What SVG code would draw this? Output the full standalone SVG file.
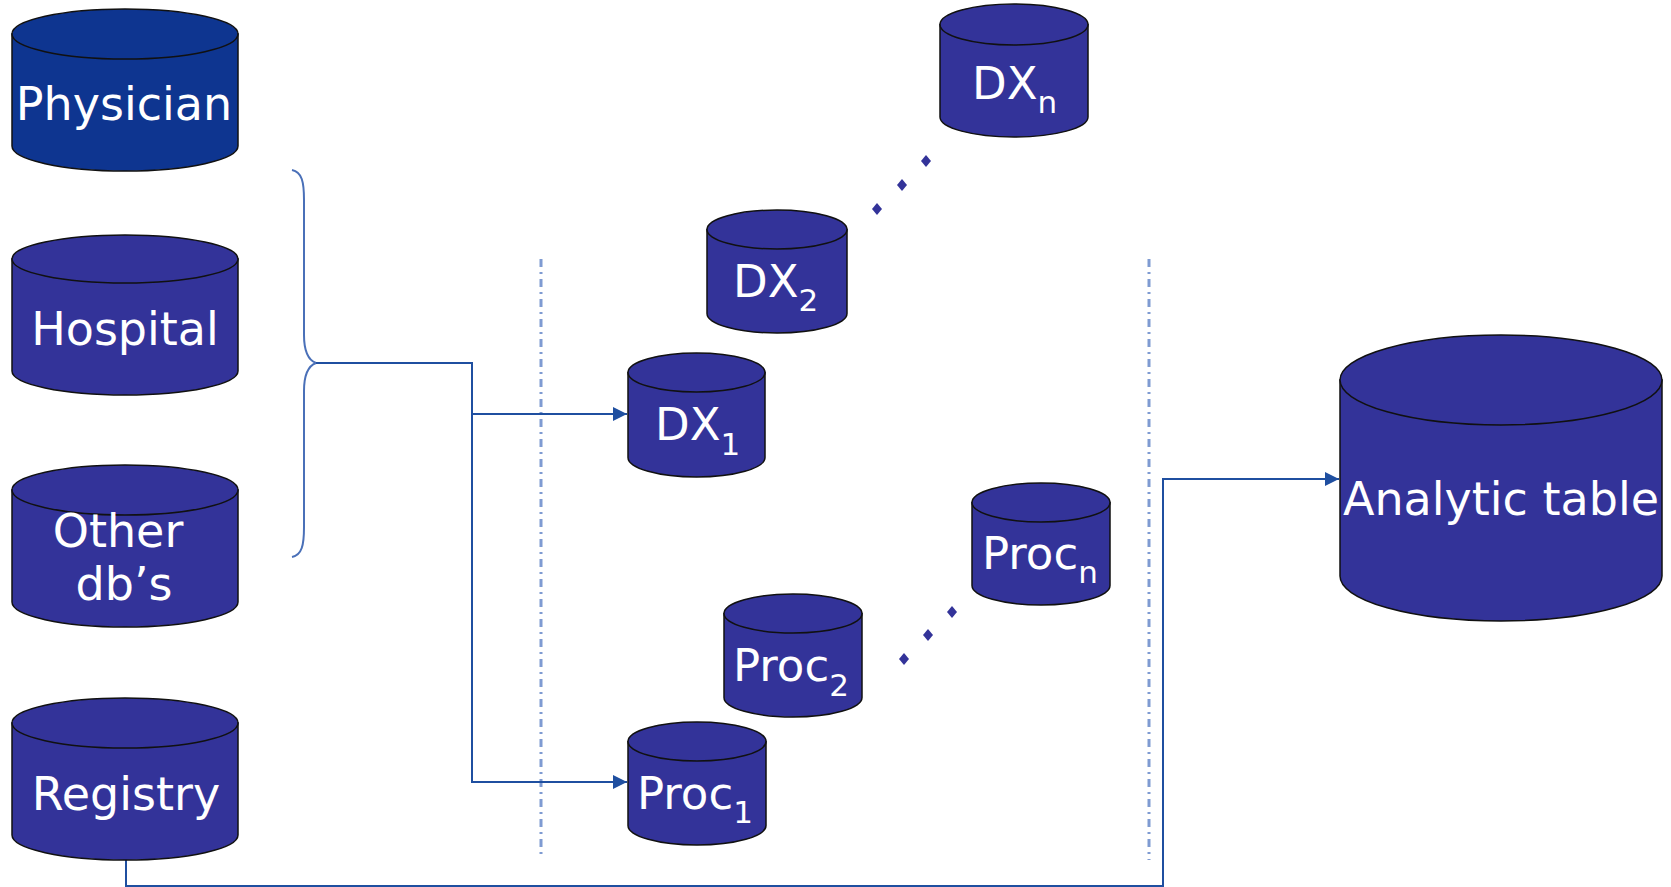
<svg xmlns="http://www.w3.org/2000/svg" width="1671" height="887" viewBox="0 0 1671 887">
<style>
.cyl{fill:#333399;stroke:#111;stroke-width:1.5}
.dark{fill:#0E3590}
.lbl{fill:#fff;font-family:"DejaVu Sans","Verdana",sans-serif;font-size:45px}
.big{font-size:46px}
.sub{font-size:31px}
.conn{fill:none;stroke:#1F4FA0;stroke-width:2}
.brace{fill:none;stroke:#4A70B8;stroke-width:2}
.sep{fill:none;stroke:#7F9BD2;stroke-width:3;stroke-dasharray:8 5 2 5}
.dot{fill:#333399}
</style>
<defs>
<marker id="arr" markerUnits="userSpaceOnUse" markerWidth="16" markerHeight="14" refX="14" refY="7" orient="auto">
<path d="M0,0 L14,7 L0,14 Z" fill="#1F4FA0"/>
</marker>
</defs>
<g id="separators">
<line class="sep" x1="541" y1="259" x2="541" y2="858"/>
<line class="sep" x1="1149" y1="259" x2="1149" y2="860"/>
</g>
<g id="connectors">
<path class="brace" d="M292,170 C302,172 304,182 304,200 V335 C304,352 308,360 316,363 C308,366 304,374 304,391 V527 C304,545 302,555 292,557"/>
<path class="conn" d="M316,363 H472 V782 H627" marker-end="url(#arr)"/>
<path class="conn" d="M472,414 H627" marker-end="url(#arr)"/>
<path class="conn" d="M126,860 V886 H1163 V479 H1339" marker-end="url(#arr)"/>
</g>
<g id="dots">
<path class="dot" d="M877,203 L882,209 L877,215 L872,209 Z"/>
<path class="dot" d="M902,179 L907,185 L902,191 L897,185 Z"/>
<path class="dot" d="M926,155 L931,161 L926,167 L921,161 Z"/>
<path class="dot" d="M904,653 L909,659 L904,665 L899,659 Z"/>
<path class="dot" d="M928,629 L933,635 L928,641 L923,635 Z"/>
<path class="dot" d="M952,606 L957,612 L952,618 L947,612 Z"/>
</g>
<g id="physician">
<path class="cyl dark" d="M12,34 V146 A113,25 0 0 0 238,146 V34 Z"/>
<ellipse class="cyl dark" cx="125" cy="34" rx="113" ry="25"/>
<text class="lbl big" x="124" y="120" text-anchor="middle">Physician</text>
</g>
<g id="hospital">
<path class="cyl" d="M12,259 V371 A113,24 0 0 0 238,371 V259 Z"/>
<ellipse class="cyl" cx="125" cy="259" rx="113" ry="24"/>
<text class="lbl big" x="125" y="345" text-anchor="middle">Hospital</text>
</g>
<g id="other">
<path class="cyl" d="M12,490 V602 A113,25 0 0 0 238,602 V490 Z"/>
<ellipse class="cyl" cx="125" cy="490" rx="113" ry="25"/>
<text class="lbl big" x="118" y="547" text-anchor="middle">Other</text>
<text class="lbl big" x="124" y="600" text-anchor="middle">db’s</text>
</g>
<g id="registry">
<path class="cyl" d="M12,723 V835 A113,25 0 0 0 238,835 V723 Z"/>
<ellipse class="cyl" cx="125" cy="723" rx="113" ry="25"/>
<text class="lbl big" x="126" y="810" text-anchor="middle">Registry</text>
</g>
<g id="dx1">
<path class="cyl" d="M628,372.5 V457.5 A68.5,19.5 0 0 0 765,457.5 V372.5 Z"/>
<ellipse class="cyl" cx="696.5" cy="372.5" rx="68.5" ry="19.5"/>
<text class="lbl" x="655" y="440">DX<tspan class="sub" dy="15">1</tspan></text>
</g>
<g id="dx2">
<path class="cyl" d="M707,229.5 V313.5 A70,19.5 0 0 0 847,313.5 V229.5 Z"/>
<ellipse class="cyl" cx="777" cy="229.5" rx="70" ry="19.5"/>
<text class="lbl" x="733" y="297">DX<tspan class="sub" dy="14">2</tspan></text>
</g>
<g id="dxn">
<path class="cyl" d="M940,24.5 V117 A74,20 0 0 0 1088,117 V24.5 Z"/>
<ellipse class="cyl" cx="1014" cy="24.5" rx="74" ry="20.5"/>
<text class="lbl" x="972" y="99">DX<tspan class="sub" dy="14">n</tspan></text>
</g>
<g id="procn">
<path class="cyl" d="M972,502.5 V585.5 A69,19.5 0 0 0 1110,585.5 V502.5 Z"/>
<ellipse class="cyl" cx="1041" cy="502.5" rx="69" ry="19.5"/>
<text class="lbl" x="982" y="569">Proc<tspan class="sub" dy="14">n</tspan></text>
</g>
<g id="proc2">
<path class="cyl" d="M724,613.5 V697.5 A69,19.5 0 0 0 862,697.5 V613.5 Z"/>
<ellipse class="cyl" cx="793" cy="613.5" rx="69" ry="19.5"/>
<text class="lbl" x="733" y="681">Proc<tspan class="sub" dy="15">2</tspan></text>
</g>
<g id="proc1">
<path class="cyl" d="M628,741.5 V825.5 A69,19.5 0 0 0 766,825.5 V741.5 Z"/>
<ellipse class="cyl" cx="697" cy="741.5" rx="69" ry="19.5"/>
<text class="lbl" x="637" y="809">Proc<tspan class="sub" dy="14">1</tspan></text>
</g>
<g id="analytic">
<path class="cyl" d="M1340,380 V576 A161,45 0 0 0 1662,576 V380 Z"/>
<ellipse class="cyl" cx="1501" cy="380" rx="161" ry="45"/>
<text class="lbl big" x="1501" y="515" text-anchor="middle">Analytic table</text>
</g>
</svg>
